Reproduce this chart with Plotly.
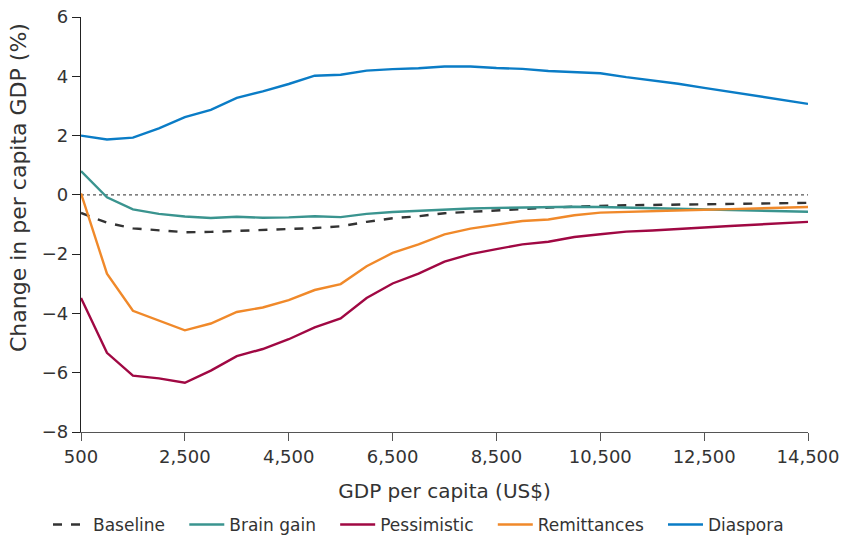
import plotly.graph_objects as go

# ── Data ─────────────────────────────────────────────────────────────────────
gdp = list(range(500, 15000, 500))

baseline = [-0.61, -0.94, -1.13, -1.20, -1.26, -1.25, -1.22, -1.20, -1.17, -1.12,
            -1.06, -0.91, -0.79, -0.72, -0.62, -0.57, -0.52, -0.47, -0.43, -0.40,
            -0.37, -0.35, -0.34, -0.33, -0.32, -0.31, -0.30, -0.29, -0.27]
brain_gain = [0.80, -0.08, -0.49, -0.64, -0.73, -0.78, -0.74, -0.77, -0.76, -0.72,
              -0.75, -0.64, -0.58, -0.54, -0.48, -0.46, -0.44, -0.42, -0.40, -0.40,
              -0.41, -0.43, -0.45, -0.47, -0.49, -0.51, -0.53, -0.55, -0.57]
pessimistic = [-3.48, -5.33, -6.10, -6.19, -6.34, -5.93, -5.44, -5.20, -4.87, -4.47,
               -4.17, -3.48, -2.99, -2.66, -2.25, -2.00, -1.83, -1.67, -1.58, -1.42,
               -1.33, -1.24, -1.20, -1.16, -1.10, -1.05, -1.00, -0.96, -0.91]
remittances = [0.05, -2.66, -3.91, -4.25, -4.57, -4.34, -3.95, -3.80, -3.55, -3.21,
               -3.01, -2.41, -1.96, -1.67, -1.33, -1.14, -1.00, -0.88, -0.83, -0.69,
               -0.60, -0.57, -0.55, -0.53, -0.50, -0.48, -0.46, -0.44, -0.41]
diaspora = [2.00, 1.87, 1.93, 2.24, 2.62, 2.87, 3.27, 3.49, 3.74, 4.02,
            4.05, 4.19, 4.24, 4.27, 4.33, 4.33, 4.28, 4.25, 4.18, 4.15,
            4.10, 3.97, 3.87, 3.75, 3.61, 3.48, 3.35, 3.21, 3.07]

x_ticks = [500, 2500, 4500, 6500, 8500, 10500, 12500, 14500]
y_ticks = [-8, -6, -4, -2, 0, 2, 4, 6]

# ── Style ────────────────────────────────────────────────────────────────────
FONT = "DejaVu Sans, sans-serif"
TXT = "#333333"
PAD = "\u00a0\u00a0\u2009"  # a little extra room between legend entries

series = [
    ("Baseline",    baseline,    "#333333", "dash"),
    ("Brain gain",  brain_gain,  "#3a948f", "solid"),
    ("Pessimistic", pessimistic, "#a00843", "solid"),
    ("Remittances", remittances, "#f0892a", "solid"),
    ("Diaspora",    diaspora,    "#0a7cc6", "solid"),
]

fig = go.Figure()
for i, (name, ys, col, dash) in enumerate(series):
    label = name if i == len(series) - 1 else name + PAD
    fig.add_trace(go.Scatter(x=gdp, y=ys, name=label, mode="lines",
                             line=dict(color=col, width=2.4, dash=dash)))

fig.add_hline(y=0, line=dict(color="#555555", width=1.2, dash="dot"), layer="below")

# y title as annotation: it sits above the axis centre in the reference
fig.add_annotation(text="Change in per capita GDP (%)", textangle=-90,
                   xref="paper", yref="paper", x=(19 - 81) / 727, y=(432 - 188) / 415,
                   xanchor="center", yanchor="middle", showarrow=False,
                   font=dict(size=22, color=TXT))

fig.update_layout(
    width=843, height=536,
    paper_bgcolor="white", plot_bgcolor="white",
    margin=dict(l=81, r=35, t=17, b=104, autoexpand=False),
    font=dict(family=FONT, color=TXT, size=17),
    showlegend=True,
    legend=dict(orientation="h", x=(48 - 81) / 727, xanchor="left",
                y=-0.224, yanchor="middle",
                font=dict(size=17), itemwidth=35, tracegroupgap=0),
    xaxis=dict(range=[500, 14500], tickvals=x_ticks, tickformat=",",
               tickfont=dict(size=18),
               showline=True, linecolor="#555555", linewidth=1.2,
               ticks="outside", ticklen=8, tickcolor="#555555",
               showgrid=False, zeroline=False, automargin=False,
               title=dict(text="GDP per capita (US$)", standoff=18)),
    yaxis=dict(range=[-8, 6], tickvals=y_ticks, tickfont=dict(size=18),
               showline=True, linecolor="#222222", linewidth=1.2,
               ticks="outside", ticklen=8, tickcolor="#222222",
               showgrid=False, zeroline=False, automargin=False),
)

fig.write_html("out.html", config={"displayModeBar": False},
               post_script="document.body.style.margin='0';")
